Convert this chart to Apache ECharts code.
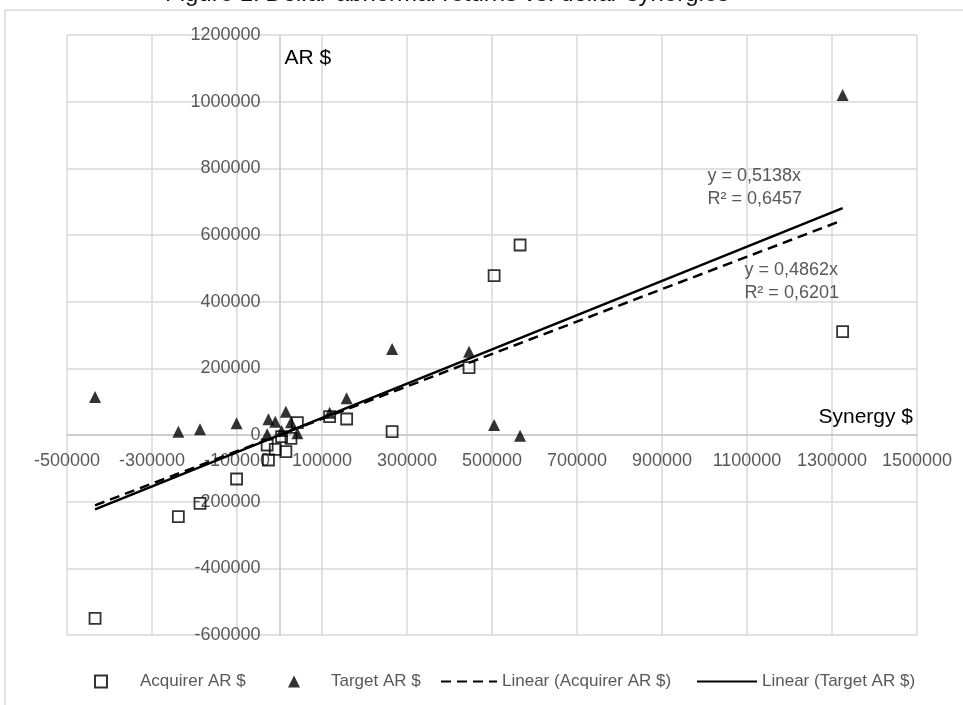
<!DOCTYPE html>
<html>
<head>
<meta charset="utf-8">
<script src="https://cdn.jsdelivr.net/npm/echarts@6/dist/echarts.min.js"></script>
<style>
  html, body { margin: 0; padding: 0; background: #fff; }
  #charts { width: 963px; height: 705px; }
</style>
</head>
<body>
<div id="charts"></div>
<script>
// synergy of each deal (x) and the abnormal returns of both sides (y)
var synergy    = [-434000, -238000, -187000, -101000, -29000, -26000, -10000, 5000, 15000, 27000, 42000, 118000, 158000, 265000, 446000, 505000, 566000, 1325000];
var acquirerAR = [-550000, -245000, -205000, -132000, -30000, -75000, -43000, -5000, -50000, -10000, 37000, 55000, 48000, 10000, 202000, 478000, 570000, 310000];
var targetAR   = [114000, 10000, 17000, 35000, 2000, 47000, 40000, 12000, 70000, 38000, 5000, 67000, 110000, 258000, 250000, 30000, -2000, 1020000];

// trend lines (through origin) as printed on the chart: acquirer, target
var trendNames = ['Linear (Acquirer AR $)', 'Linear (Target AR $)'];
var trendSlope = [0.4862, 0.5138];
var trendR2    = [0.6201, 0.6457];

var xRange = [-500000, 1500000];
var yRange = [-600000, 1200000];
var step = 200000;

var labelFont = 'Liberation Sans, Arial, sans-serif';
var grey = '#595959';

// plot box in px
var gridL = 67, gridR = 46, gridT = 35, gridB = 70;
var plotW = 963 - gridL - gridR, plotH = 705 - gridT - gridB;

function pairs(xs, ys) {
    var list = [];
    for (var i = 0; i < xs.length; i++) {
        list.push([xs[i], ys[i]]);
    }
    return list;
}

function trendLine(k) {
    var lo = Math.min.apply(null, synergy);
    var hi = Math.max.apply(null, synergy);
    return [[lo, trendSlope[k] * lo], [hi, trendSlope[k] * hi]];
}

function eqText(k) {
    return 'y = ' + trendSlope[k].toFixed(4).replace('.', ',') + 'x\nR\u00B2 = ' + trendR2[k].toFixed(4).replace('.', ',');
}

function eqMark(k, coord) {
    return {
        silent: true,
        symbol: 'rect',
        symbolSize: 1,
        itemStyle: { color: 'rgba(0,0,0,0)' },
        label: {
            show: true,
            position: [0, 0],
            align: 'left',
            verticalAlign: 'top',
            formatter: eqText(k),
            color: grey,
            fontSize: 18,
            lineHeight: 23,
            fontFamily: labelFont
        },
        data: [{ coord: coord }]
    };
}

// move whole axis (line + labels) to the zero of the other axis
var yAxisShift = -plotW * (0 - xRange[0]) / (xRange[1] - xRange[0]);
var xAxisShift = -plotH * (0 - yRange[0]) / (yRange[1] - yRange[0]);

var myChart = echarts.init(document.getElementById('charts'));

var legendText = { color: grey, fontSize: 17, fontFamily: labelFont };

var option = {
    animation: false,
    backgroundColor: '#fff',
    title: {
        left: 165,
        top: -18,
        padding: 0,
        text: '{n|Figure 1: }{i|Dollar}{n| abnormal returns vs. }{i|dollar}{n| synergies}',
        textStyle: {
            fontSize: 24,
            fontWeight: 'normal',
            rich: {
                n: { fontSize: 24, color: '#111', fontWeight: 'normal', fontFamily: labelFont },
                i: { fontSize: 24, color: '#111', fontWeight: 'normal', fontFamily: labelFont, fontStyle: 'italic' }
            }
        }
    },
    graphic: [{
        type: 'rect',
        silent: true,
        shape: { x: 5, y: 10, width: 1200, height: 1000 },
        style: { fill: 'none', stroke: '#d9d9d9', lineWidth: 1.5 }
    }],
    grid: { left: gridL, right: gridR, top: gridT, bottom: gridB, outerBoundsMode: 'none', containLabel: false },
    xAxis: {
        type: 'value',
        min: xRange[0],
        max: xRange[1],
        interval: step,
        offset: xAxisShift,
        name: 'Synergy $',
        nameLocation: 'end',
        nameGap: -4,
        nameTextStyle: {
            color: '#000', fontSize: 21, fontFamily: labelFont,
            align: 'right', verticalAlign: 'bottom', padding: [0, 0, 7, 0]
        },
        axisLine: { onZero: false, lineStyle: { color: '#c8c8c8', width: 1.5 } },
        axisTick: { show: false },
        axisLabel: {
            color: grey, fontSize: 18, fontFamily: labelFont, margin: 17,
            formatter: function (v) { return String(v); }
        },
        splitLine: { show: true, lineStyle: { color: '#d9d9d9', width: 1.5 } }
    },
    yAxis: {
        type: 'value',
        min: yRange[0],
        max: yRange[1],
        interval: step,
        offset: yAxisShift,
        name: 'AR $',
        nameLocation: 'end',
        nameGap: -13,
        nameTextStyle: {
            color: '#000', fontSize: 21, fontFamily: labelFont,
            align: 'left', verticalAlign: 'top', padding: [0, 0, 0, 5]
        },
        axisLine: { onZero: false, lineStyle: { color: '#c8c8c8', width: 1.5 } },
        axisTick: { show: false },
        axisLabel: {
            color: grey, fontSize: 18, fontFamily: labelFont, margin: 19,
            formatter: function (v) { return String(v); }
        },
        splitLine: { show: true, lineStyle: { color: '#d9d9d9', width: 1.5 } }
    },
    legend: [{
        left: 89, top: 668, itemWidth: 12, itemHeight: 12, itemGap: 0,
        textStyle: { color: grey, fontSize: 17, fontFamily: labelFont, padding: [0, 0, 0, 28] },
        data: [{ name: 'Acquirer AR $', icon: 'rect' }]
    }, {
        left: 283, top: 668, itemWidth: 12, itemHeight: 12, itemGap: 0,
        textStyle: { color: grey, fontSize: 17, fontFamily: labelFont, padding: [0, 0, 0, 26] },
        data: [{ name: 'Target AR $', icon: 'triangle' }]
    }, {
        left: 435, top: 668, itemWidth: 56, itemHeight: 12, itemGap: 0,
        itemStyle: { opacity: 0 },
        textStyle: legendText,
        data: [trendNames[0]]
    }, {
        left: 691, top: 668, itemWidth: 60, itemHeight: 12, itemGap: 0,
        itemStyle: { opacity: 0 },
        textStyle: legendText,
        data: [trendNames[1]]
    }],
    series: [{
        name: 'Acquirer AR $',
        type: 'scatter',
        symbol: 'rect',
        symbolSize: 11,
        z: 2,
        itemStyle: { color: 'rgba(255,255,255,0)', borderColor: '#000', borderWidth: 1.8 },
        data: pairs(synergy, acquirerAR)
    }, {
        name: 'Target AR $',
        type: 'scatter',
        symbol: 'triangle',
        symbolSize: 12,
        z: 3,
        itemStyle: { color: '#000' },
        data: pairs(synergy, targetAR)
    }, {
        name: trendNames[0],
        type: 'line',
        symbol: 'none',
        z: 4,
        silent: true,
        lineStyle: { color: '#000', width: 2.5, type: [10, 6] },
        itemStyle: { color: '#000' },
        data: trendLine(0),
        markPoint: eqMark(0, [1095000, 529000])
    }, {
        name: trendNames[1],
        type: 'line',
        symbol: 'none',
        z: 4,
        silent: true,
        lineStyle: { color: '#000', width: 2.5 },
        itemStyle: { color: '#000' },
        data: trendLine(1),
        markPoint: eqMark(1, [1008000, 810000])
    }]
};

myChart.setOption(option);
</script>
</body>
</html>
